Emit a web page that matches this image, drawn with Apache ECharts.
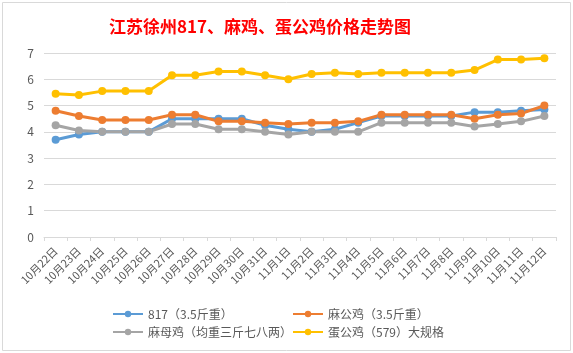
<!DOCTYPE html>
<html><head><meta charset="utf-8">
<script src="https://cdn.jsdelivr.net/npm/echarts@6/dist/echarts.min.js"></script>
<style>html,body{margin:0;padding:0;background:#fff}#c{width:573px;height:353px}</style>
</head><body><div id="c"></div>
<script>
const categories = ['10月22日','10月23日','10月24日','10月25日','10月26日','10月27日','10月28日','10月29日','10月30日','10月31日','11月1日','11月2日','11月3日','11月4日','11月5日','11月6日','11月7日','11月8日','11月9日','11月10日','11月11日','11月12日'];
const s817 = [3.7,3.9,4.0,4.0,4.0,4.5,4.5,4.5,4.5,4.25,4.1,4.0,4.1,4.35,4.6,4.6,4.6,4.6,4.75,4.75,4.8,4.85];
const maGong = [4.8,4.6,4.45,4.45,4.45,4.65,4.65,4.4,4.4,4.35,4.3,4.35,4.35,4.4,4.65,4.65,4.65,4.65,4.5,4.65,4.7,5.0];
const maMu = [4.25,4.05,4.0,4.0,4.0,4.3,4.3,4.1,4.1,4.0,3.9,4.0,4.0,4.0,4.35,4.35,4.35,4.35,4.2,4.3,4.4,4.6];
const danGong = [5.45,5.4,5.55,5.55,5.55,6.15,6.15,6.3,6.3,6.15,6.0,6.2,6.25,6.2,6.25,6.25,6.25,6.25,6.35,6.75,6.75,6.8];
const names = ['817（3.5斤重）','麻公鸡（3.5斤重）','麻母鸡（均重三斤七八两）','蛋公鸡（579）大规格'];
const colors = ['#5B9BD5','#ED7D31','#A5A5A5','#FFC000'];
const yTicks = [0,1,2,3,4,5,6,7];

const chart = echarts.init(document.getElementById('c'));
const mk = (name, data, color) => ({
  name, type:'line', data, symbol:'circle', symbolSize:8,
  lineStyle:{width:3,color}, itemStyle:{color}, animation:false
});
chart.setOption({
  animation:false,
  textStyle:{fontFamily:'"Noto Sans CJK SC", sans-serif'},
  title:{text:'江苏徐州817、麻鸡、蛋公鸡价格走势图', left:104, top:13,
    textStyle:{color:'#FF0000', fontSize:17, fontWeight:'bold', fontFamily:'"Noto Sans CJK SC", sans-serif'}},
  graphic:[{type:'rect', shape:{x:2.5,y:2.5,width:568,height:348}, style:{fill:'none', stroke:'#d9d9d9', lineWidth:1}, silent:true}],
  legend:[
    {orient:'vertical', left:107, top:303, itemGap:6, itemWidth:30, itemHeight:8,
     data:[names[0], names[2]], textStyle:{color:'#595959', fontSize:12}},
    {orient:'vertical', left:287, top:303, itemGap:6, itemWidth:30, itemHeight:8,
     data:[names[1], names[3]], textStyle:{color:'#595959', fontSize:12}}
  ],
  grid:{left:44, right:17, top:53, bottom:116},
  xAxis:{type:'category', data:categories, boundaryGap:true,
    axisLine:{lineStyle:{color:'#d9d9d9'}},
    axisTick:{show:true, length:4, lineStyle:{color:'#d9d9d9'}},
    axisLabel:{rotate:45, fontSize:11, color:'#595959', margin:12, interval:0}},
  yAxis:{type:'value', min:yTicks[0], max:yTicks[yTicks.length-1], interval:1,
    axisLine:{show:false}, axisTick:{show:false},
    splitLine:{lineStyle:{color:'#d9d9d9'}},
    axisLabel:{fontSize:12, color:'#595959', margin:10}},
  series:[mk(names[0], s817, colors[0]), mk(names[1], maGong, colors[1]), mk(names[2], maMu, colors[2]), mk(names[3], danGong, colors[3])]
});
</script></body></html>
